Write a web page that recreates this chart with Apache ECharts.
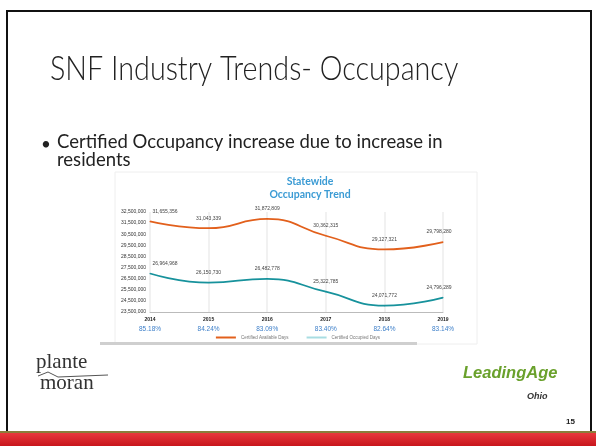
<!DOCTYPE html>
<html>
<head>
<meta charset="utf-8">
<script src="https://cdn.jsdelivr.net/npm/echarts@6/dist/echarts.min.js"></script>
<style>
  html, body { margin: 0; padding: 0; background: #fff; }
  #chart1 { width: 596px; height: 446px; }
</style>
</head>
<body>
<div id="chart1"></div>
<script>
var years = ['2014', '2015', '2016', '2017', '2018', '2019'];
var availableDays = [31655356, 31043339, 31872809, 30362315, 29127321, 29798280];
var occupiedDays = [26964968, 26150730, 26482778, 25322785, 24071772, 24796289];
var occupancyPct = ['85.18%', '84.24%', '83.09%', '83.40%', '82.64%', '83.14%'];

var myChart = echarts.init(document.getElementById('chart1'));

function fmt(v) {
  return echarts.format.addCommas(v);
}

var pointLabel = {
  show: true,
  position: 'top',
  distance: 7,
  fontSize: 5,
  color: '#444',
  formatter: function (p) { return fmt(p.value); }
};

// first label sits to the right of the point, last one slightly left (as in Excel)
function shiftEnds(params) {
  if (params.dataIndex === 0) return { dx: 15 };
  if (params.dataIndex === years.length - 1) return { dx: -4 };
  return {};
}

option = {
  backgroundColor: '#fff',
  animation: false,
  title: {
    text: 'Statewide\nOccupancy Trend',
    left: 305,
    top: 170,
    textAlign: 'center',
    textStyle: {
      color: '#3b9bd4',
      fontSize: 10.5,
      fontWeight: 'bold',
      fontFamily: 'Lato',
      lineHeight: 13
    }
  },
  legend: {
    bottom: 101,
    left: 'center',
    itemWidth: 20,
    itemHeight: 2,
    itemGap: 18,
    icon: 'rect',
    textStyle: { fontSize: 4.5, color: '#777' },
    data: [
      { name: 'Certified Available Days', itemStyle: { color: '#e2601c', opacity: 1 } },
      { name: 'Certified Occupied Days', itemStyle: { color: '#a8dde2', opacity: 1 } }
    ]
  },
  grid: {
    left: 150,
    right: 153,
    top: 212,
    bottom: 134
  },
  xAxis: [
    {
      type: 'category',
      data: years,
      boundaryGap: false,
      axisLine: { lineStyle: { color: '#bbb', width: 1 } },
      axisTick: { show: false },
      splitLine: { show: true, lineStyle: { color: '#ececec', width: 1.5 } },
      axisLabel: { fontSize: 5, color: '#222', margin: 5, fontWeight: 'bold' }
    },
    {
      type: 'category',
      data: occupancyPct,
      position: 'bottom',
      boundaryGap: false,
      offset: 9,
      axisLine: { show: false },
      axisTick: { show: false },
      axisLabel: { fontSize: 6.5, color: '#3d7fc9', margin: 5 }
    }
  ],
  yAxis: {
    type: 'value',
    min: 23500000,
    max: 32500000,
    interval: 1000000,
    splitLine: { show: false },
    axisLine: { show: false },
    axisTick: { show: false },
    axisLabel: { fontSize: 5, color: '#333', margin: 4, formatter: fmt }
  },
  series: [
    {
      name: 'Certified Available Days',
      type: 'line',
      smooth: true,
      symbol: 'circle',
      symbolSize: 1,
      data: availableDays,
      lineStyle: { color: '#e2601c', width: 1.8 },
      itemStyle: { color: '#e2601c' },
      label: pointLabel,
      labelLayout: shiftEnds
    },
    {
      name: 'Certified Occupied Days',
      type: 'line',
      smooth: true,
      symbol: 'circle',
      symbolSize: 1,
      data: occupiedDays,
      lineStyle: { color: '#17929c', width: 1.8 },
      itemStyle: { color: '#17929c' },
      label: pointLabel,
      labelLayout: shiftEnds
    }
  ],
  graphic: [
    // slide frame
    { type: 'rect', z: -10, shape: { x: 7, y: 11, width: 584, height: 422 },
      style: { fill: 'none', stroke: '#111', lineWidth: 2 } },
    // chart box
    { type: 'rect', z: -5, shape: { x: 115, y: 172, width: 362, height: 172 },
      style: { fill: '#fff', stroke: '#eee', lineWidth: 1 } },
    { type: 'rect', z: -4, shape: { x: 100, y: 342, width: 317, height: 3 },
      style: { fill: '#cfcfcf' } },
    // headline
    { type: 'text', x: 50, y: 53, scaleX: 0.87,
      style: { text: 'SNF Industry Trends- Occupancy', fontSize: 33, fontFamily: 'Lato',
        fontWeight: 300, fill: '#222', verticalAlign: 'top' } },
    { type: 'text', left: 41, top: 136,
      style: { text: '\u2022', fontSize: 17, fill: '#222', fontFamily: 'Lato' } },
    { type: 'text', left: 57, top: 133,
      style: { text: 'Certified Occupancy increase due to increase in\nresidents', fontSize: 18.5,
        lineHeight: 18, fontFamily: 'Lato', fill: '#222' } },
    // plante moran logo
    { type: 'text', left: 36, top: 352,
      style: { text: 'plante', fontSize: 21, fontFamily: 'Liberation Serif', fill: '#333' } },
    { type: 'polyline', shape: { points: [[38, 376], [48, 372], [58, 377], [108, 375]] },
      style: { stroke: '#555', lineWidth: 1, fill: 'none' } },
    { type: 'text', left: 40, top: 373,
      style: { text: 'moran', fontSize: 21, fontFamily: 'Liberation Serif', fill: '#333' } },
    // LeadingAge Ohio logo
    { type: 'text', left: 463, top: 365,
      style: { text: 'LeadingAge', fontSize: 16.5, fontStyle: 'italic', fontWeight: 'bold',
        fontFamily: 'Liberation Sans', fill: '#6aa12c' } },
    { type: 'text', left: 527, top: 392,
      style: { text: 'Ohio', fontSize: 9, fontStyle: 'italic', fontWeight: 'bold',
        fontFamily: 'Liberation Sans', fill: '#333' } },
    // page number
    { type: 'text', left: 566, top: 418,
      style: { text: '15', fontSize: 8, fontWeight: 'bold', fontFamily: 'Liberation Sans', fill: '#222' } },
    // bottom band
    { type: 'rect', shape: { x: 0, y: 431, width: 596, height: 2 }, style: { fill: '#8a7d3a' } },
    { type: 'rect', shape: { x: 0, y: 433, width: 596, height: 13 },
      style: { fill: new echarts.graphic.LinearGradient(0, 0, 0, 1, [
        { offset: 0, color: '#e8383c' }, { offset: 1, color: '#c8161d' }]) } }
  ]
};
myChart.setOption(option);
</script>
</body>
</html>
